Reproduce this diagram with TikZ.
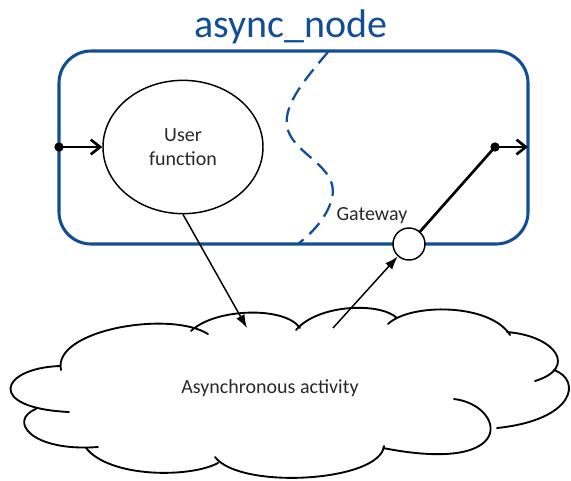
\documentclass[tikz,border=0pt]{standalone}
\usepackage{fontspec}
\setmainfont{Carlito}
\usetikzlibrary{arrows.meta,shapes.geometric}
\definecolor{nodeblue}{RGB}{18,78,150}
\definecolor{inktext}{RGB}{40,40,40}
\begin{document}
\begin{tikzpicture}[x=0.75pt,y=-0.75pt,
  frame/.style={draw=nodeblue, line width=2.3pt, rounded corners=24pt,
    minimum width=351.75pt, minimum height=144.75pt, inner sep=0pt},
  bodytext/.style={text=inktext, font=\fontsize{15}{17.5}\selectfont, align=center},
  funcbox/.style={ellipse, draw, line width=1.1pt, minimum width=120pt,
    minimum height=100pt, inner sep=0pt},
  gatebox/.style={circle, draw, fill=white, line width=1.1pt, minimum size=24pt, inner sep=0pt},
  port/.style={circle, fill=black, inner sep=0pt, minimum size=7pt},
  flow/.style={line width=2pt, -{Straight Barb[length=7pt,width=11pt]}},
  plainflow/.style={line width=2pt},
  signal/.style={line width=1.1pt, -{Latex[length=10pt,width=7pt]}},
  splitline/.style={draw=nodeblue, line width=1.7pt, dash pattern=on 11pt off 6pt},
  cloudline/.style={line width=1.4pt, line cap=round}
]
\useasboundingbox (0,0) rectangle (571,480);

% title and node frame
\node[text=nodeblue, font=\fontsize{30}{36}\selectfont] (title) at (291,27) {async\_node};
\node[frame] (box) at (293.5,147.5) {};

% dashed separator between the two halves of the node
\draw[splitline] (328,52) .. controls (300,85) and (278,112) .. (290,135)
  .. controls (302,158) and (342,170) .. (331,202)
  .. controls (324,222) and (308,236) .. (298,244);

% user function and gateway
\node[funcbox] (uf) at (183,147) {};
\node[bodytext] (uflabel) at (183,147) {User\\function};
\node[gatebox] (gw) at (409,244) {};
\node[bodytext, anchor=east] (gwlabel) at (412,216) {Gateway};

% ports on the frame
\node[port] (din) at (59,147) {};
\node[port] (dout) at (495,147) {};
\coordinate (exit) at (528,147);

% cloud of asynchronous activity, one arc per lobe
\draw[cloudline]
  (61,370) .. controls (52,330) and (170,310) .. (208,334)
  (191,331) .. controls (215,308) and (285,306) .. (300,328)
  (296,330) .. controls (318,304) and (380,302) .. (397,318)
  (388,324) .. controls (410,303) and (490,303) .. (510,335)
  (507,332) .. controls (556,336) and (578,368) .. (535,381)
  (554,370) .. controls (582,380) and (575,420) .. (497,428)
  (454,399) .. controls (505,405) and (520,475) .. (383,448)
  (384,446) .. controls (380,482) and (240,490) .. (215,457)
  (218,463) .. controls (190,478) and (110,478) .. (86,448)
  (36,409) .. controls (8,420) and (30,452) .. (98,447)
  (60,366) .. controls (0,368) and (-15,408) .. (69,412);
\node[bodytext] (cloud) at (270,388) {Asynchronous activity};
\coordinate (cin) at (247,328);
\coordinate (cout) at (333,328);

% connectors
\draw[flow] (din.center) -- (uf.west);
\draw[signal] (uf.south) -- (cin);
\draw[signal] (cout) -- (gw);
\draw[plainflow] (gw) -- (dout.center);
\draw[flow] (dout.center) -- (exit);
\end{tikzpicture}
\end{document}
